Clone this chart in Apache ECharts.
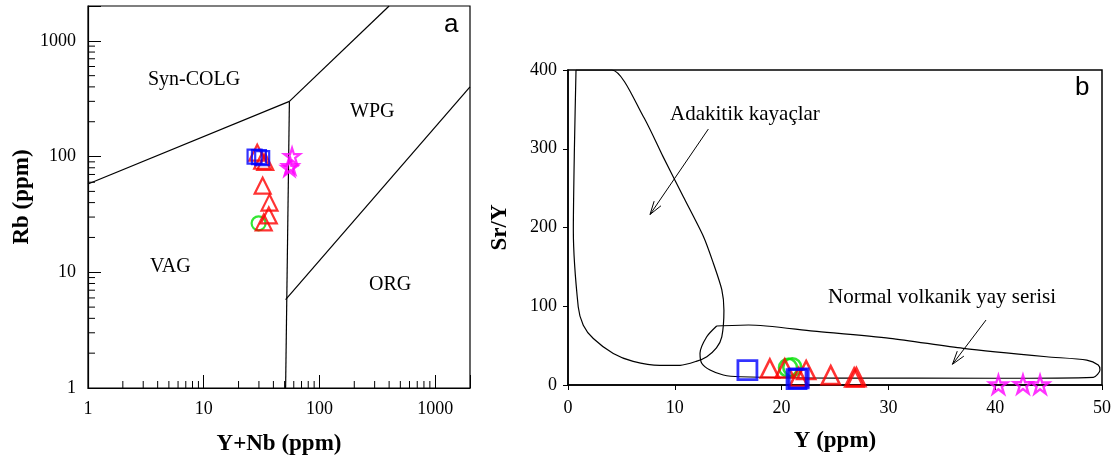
<!DOCTYPE html>
<html>
<head>
<meta charset="utf-8">
<script src="https://cdn.jsdelivr.net/npm/echarts@6/dist/echarts.min.js"></script>
<style>
  html, body { margin: 0; padding: 0; background: #fff; }
  #chart { width: 1120px; height: 464px; }
</style>
</head>
<body>
<div id="chart"></div>
<script>
// ---- Panel a: Rb vs Y+Nb (log-log discrimination diagram) ----
const aSquares   = [[27.5, 100], [30, 99], [32, 97]];
const aTriangles = [[29, 108], [32, 92], [34, 90], [32.3, 56], [37, 40], [36.5, 31], [33, 27]];
const aCircles   = [[29.8, 26.5]];
const aStars     = [[58, 101], [55, 80], [56, 83]];

// field boundaries (Y+Nb, Rb)
const bndSynColVag = [[1, 58], [55, 300]];
const bndSynColWpg = [[55, 300], [400, 2000]];
const bndVagWpg    = [[55, 300], [51, 1]];
const bndWpgOrg    = [[51, 5.8], [2000, 400]];

const aTickLabels = [1, 10, 100, 1000];

// ---- Panel b: Sr/Y vs Y ----
const bSquares   = [[16.8, 19], [21.4, 7.5], [21.6, 8.5]];
const bTriangles = [[18.9, 21], [20.3, 21], [22.3, 19], [21.6, 10], [24.6, 12.5], [26.8, 9.5], [27.0, 10]];
const bCircles   = [[20.6, 22], [21.0, 22.5]];
const bStars     = [[40.3, 0.5], [42.6, 0.8], [44.2, 0.5]];

// adakite field outline (Y, Sr/Y)
const adakiteField = [
  [0.75, 400], [0.6, 300], [0.5, 197], [0.96, 99], [1.43, 76], [2.37, 59], [4.24, 40],
  [6.1, 30], [8.6, 25], [10.5, 25], [12.0, 30], [13.0, 36], [13.9, 47], [14.4, 61],
  [14.6, 95], [14.4, 121], [13.6, 155], [12.7, 188], [10.8, 239], [8.9, 290],
  [7.05, 341], [4.1, 400], [0.75, 400]
];
// normal arc volcanic field outline (Y, Sr/Y)
const arcField = [
  [13.92, 74.9], [16.9, 76.2], [23, 68.5], [30.15, 59.3], [37.0, 46.6], [44.8, 35.9],
  [48.57, 31.7], [49.65, 25.4], [49.81, 19.0], [49.19, 9.8], [40, 8.6], [25, 8.8],
  [16.1, 10.5], [14.54, 12.7], [13.3, 19.0], [12.52, 27.6], [12.36, 40.3],
  [12.99, 61.3], [13.92, 74.9]
];
// pointer arrows [x0, y0, x1, y1]
const arrows = [[13.14, 325, 7.68, 216.5], [39.14, 82.5, 36.0, 26.3]];

const bXTicks = [0, 10, 20, 30, 40, 50];
const bYTicks = [0, 100, 200, 300, 400];

// minor ticks (2..9 in each decade) for the log axes of panel a
const minorVals = [];
[1, 10, 100].forEach(d => { for (let k = 2; k <= 9; k++) minorVals.push(k * d); });
const minorTicksX = minorVals.map(v => [v, 1]);
const minorTicksY = minorVals.map(v => [1, v]);

const SERIF = "'Liberation Serif', 'Times New Roman', serif";
const SANS = "'Liberation Sans', Arial, sans-serif";
const RED = '#ff0000', BLUE = '#0000ff', GREEN = '#00e000', MAGENTA = '#ff00ff';
const STAR = 'path://M50,0 L61.8,35.4 L100,35.4 L69.1,57.3 L80.9,92.7 L50,70.8 L19.1,92.7 L30.9,57.3 L0,35.4 L38.2,35.4 Z';

function scatter(name, data, symbol, color, size, idx, bw) {
  return {
    name, type: 'scatter', xAxisIndex: idx, yAxisIndex: idx, data,
    symbol, symbolSize: size,
    itemStyle: { color: 'transparent', borderColor: color, borderWidth: bw },
    z: 5, silent: true
  };
}
function boundary(data, idx, smooth) {
  return {
    type: 'line', xAxisIndex: idx, yAxisIndex: idx, data, showSymbol: false,
    symbol: 'none', smooth: smooth || false, lineStyle: { color: '#000', width: 1.2 },
    silent: true, z: 3
  };
}
function minorTicks(data, vertical) {
  return {
    type: 'custom', xAxisIndex: 0, yAxisIndex: 0, data, silent: true, clip: false, z: 4,
    renderItem: (params, api) => {
      const p = api.coord([api.value(0), api.value(1)]);
      return {
        type: 'line',
        shape: vertical ? { x1: p[0], y1: p[1], x2: p[0], y2: p[1] - 7 }
                        : { x1: p[0], y1: p[1], x2: p[0] + 7, y2: p[1] },
        style: { stroke: '#000', lineWidth: 1 }
      };
    }
  };
}

const chart = echarts.init(document.getElementById('chart'));
chart.setOption({
  animation: false,
  backgroundColor: '#fff',
  grid: [
    { left: 88, top: 6, width: 382, height: 382, show: true, borderColor: '#000', borderWidth: 1.2 },
    { left: 568, top: 70, width: 534, height: 315, show: true, borderColor: '#000', borderWidth: 1.5 }
  ],
  xAxis: [
    {
      gridIndex: 0, type: 'log', logBase: 10, min: 1, max: 2000,
      name: 'Y+Nb (ppm)', nameLocation: 'middle', nameGap: 45,
      nameTextStyle: { fontFamily: SERIF, fontWeight: 'bold', fontSize: 23, color: '#000' },
      axisLine: { lineStyle: { color: '#000', width: 1.2 } },
      axisTick: { inside: true, length: 13, lineStyle: { color: '#000' } },
      axisLabel: { fontFamily: SERIF, fontSize: 18, color: '#000', margin: 12,
        formatter: v => aTickLabels.includes(Math.round(v)) ? String(Math.round(v)) : '' },
      splitLine: { show: false }
    },
    {
      gridIndex: 1, type: 'value', min: 0, max: 50, interval: 10,
      name: 'Y (ppm)', nameLocation: 'middle', nameGap: 45,
      nameTextStyle: { fontFamily: SERIF, fontWeight: 'bold', fontSize: 23, color: '#000' },
      axisLine: { lineStyle: { color: '#000', width: 1.5 } },
      axisTick: { inside: false, length: 5, lineStyle: { color: '#000' } },
      axisLabel: { fontFamily: SERIF, fontSize: 18, color: '#000', margin: 14,
        formatter: v => bXTicks.includes(v) ? String(v) : '' },
      splitLine: { show: false }
    }
  ],
  yAxis: [
    {
      gridIndex: 0, type: 'log', logBase: 10, min: 1, max: 2000,
      name: 'Rb (ppm)', nameLocation: 'middle', nameGap: 54,
      nameTextStyle: { fontFamily: SERIF, fontWeight: 'bold', fontSize: 23, color: '#000' },
      axisLine: { lineStyle: { color: '#000', width: 1.2 } },
      axisTick: { inside: true, length: 13, lineStyle: { color: '#000' } },
      axisLabel: { fontFamily: SERIF, fontSize: 18, color: '#000', margin: 12,
        formatter: v => aTickLabels.includes(Math.round(v)) ? String(Math.round(v)) : '' },
      splitLine: { show: false }
    },
    {
      gridIndex: 1, type: 'value', min: 0, max: 400, interval: 100,
      name: 'Sr/Y', nameLocation: 'middle', nameGap: 56,
      nameTextStyle: { fontFamily: SERIF, fontWeight: 'bold', fontSize: 23, color: '#000' },
      axisLine: { lineStyle: { color: '#000', width: 1.5 } },
      axisTick: { inside: false, length: 5, lineStyle: { color: '#000' } },
      axisLabel: { fontFamily: SERIF, fontSize: 18, color: '#000', margin: 11,
        formatter: v => bYTicks.includes(v) ? String(v) : '' },
      splitLine: { show: false }
    }
  ],
  series: [
    minorTicks(minorTicksX, true),
    minorTicks(minorTicksY, false),
    boundary(bndSynColVag, 0),
    boundary(bndSynColWpg, 0),
    boundary(bndVagWpg, 0),
    boundary(bndWpgOrg, 0),
    scatter('a-circle', aCircles, 'circle', GREEN, 14, 0, 2.2),
    scatter('a-triangle', aTriangles, 'triangle', RED, 16, 0, 2.2),
    scatter('a-square', aSquares, 'rect', BLUE, 14, 0, 2.2),
    scatter('a-star', aStars, STAR, MAGENTA, 16, 0, 2.2),

    boundary(adakiteField, 1, 0.25),
    boundary(arcField, 1, 0.25),
    {
      type: 'custom', xAxisIndex: 1, yAxisIndex: 1, data: arrows, silent: true, clip: false,
      renderItem: (params, api) => {
        const s = api.coord([api.value(0), api.value(1)]);
        const e = api.coord([api.value(2), api.value(3)]);
        const ang = Math.atan2(e[1] - s[1], e[0] - s[0]);
        const L = 14, w = 0.3;
        const h1 = [e[0] - L * Math.cos(ang - w), e[1] - L * Math.sin(ang - w)];
        const h2 = [e[0] - L * Math.cos(ang + w), e[1] - L * Math.sin(ang + w)];
        return {
          type: 'group',
          children: [
            { type: 'line', shape: { x1: s[0], y1: s[1], x2: e[0], y2: e[1] }, style: { stroke: '#000', lineWidth: 1 } },
            { type: 'polyline', shape: { points: [h1, e, h2] }, style: { stroke: '#000', lineWidth: 1, fill: null } }
          ]
        };
      }
    },
    scatter('b-circle', bCircles, 'circle', GREEN, 18, 1, 2.6),
    scatter('b-triangle', bTriangles, 'triangle', RED, 18, 1, 2.6),
    scatter('b-square', bSquares, 'rect', BLUE, 19, 1, 2.8),
    scatter('b-star', bStars, STAR, MAGENTA, 18, 1, 2.4)
  ],
  graphic: [
    { type: 'text', left: 148, top: 70, style: { text: 'Syn-COLG', font: '20px ' + SERIF, fill: '#000' } },
    { type: 'text', left: 350, top: 102, style: { text: 'WPG', font: '20px ' + SERIF, fill: '#000' } },
    { type: 'text', left: 150, top: 257, style: { text: 'VAG', font: '20px ' + SERIF, fill: '#000' } },
    { type: 'text', left: 369, top: 275, style: { text: 'ORG', font: '20px ' + SERIF, fill: '#000' } },
    { type: 'text', left: 444, top: 12, style: { text: 'a', font: '26px ' + SANS, fill: '#000' } },
    { type: 'text', left: 1075, top: 75, style: { text: 'b', font: '26px ' + SANS, fill: '#000' } },
    { type: 'text', left: 670, top: 104, style: { text: 'Adakitik kayaçlar', font: '21px ' + SERIF, fill: '#000' } },
    { type: 'text', left: 828, top: 287, style: { text: 'Normal volkanik yay serisi', font: '21px ' + SERIF, fill: '#000' } }
  ]
});
</script>
</body>
</html>
